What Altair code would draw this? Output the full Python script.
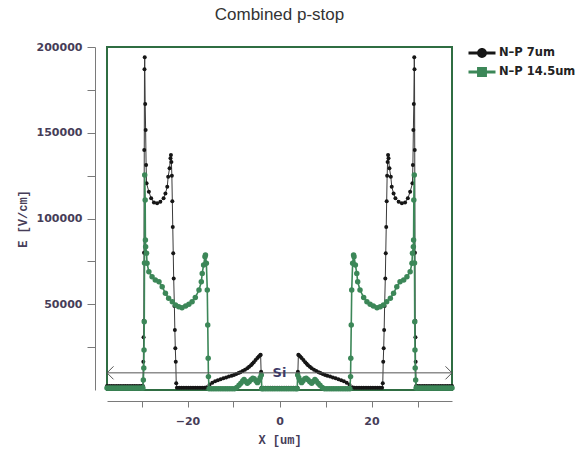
import altair as alt
import pandas as pd

# ---------------- data ----------------
series_names = ["N–P 7um", "N–P 14.5um"]

# N-P 7um (black)
black_x = [
    -37.5, -37.0, -36.5, -36.0, -35.5, -35.0, -34.5, -34.0, -33.5, -33.0, -32.5, -32.0, -31.5, -31.0, -30.5, -30.0, -29.7,
    -29.6, -29.55, -29.5, -29.45, -29.4, -29.35, -29.3,
    -29.2, -29.1, -29.0, -28.9, -28.4, -27.9, -27.3, -26.6, -25.9, -25.2, -24.8, -24.4, -24.2, -23.9, -23.7, -23.6, -23.5, -23.4,
    -23.3, -23.2, -23.1, -23.0, -22.85, -22.75, -22.65, -22.55, -22.45, -22.3,
    -21.8, -21.3, -20.8, -20.3, -19.8, -19.3, -18.8, -18.3, -17.8, -17.3, -16.8, -16.3, -15.8,
    -15.2, -14.6, -14.0, -13.4, -12.8, -12.2, -11.6, -11.0, -10.4, -9.9, -9.4, -8.9, -8.5, -8.0, -7.5, -7.0,
    -6.6, -6.2, -5.9, -5.6, -5.2, -4.8, -4.5, -4.2, -4.1, -4.0, -3.9,
    -3.5, -3.0, -2.5, -2.0, -1.5, -1.0, -0.5, 0.0, 0.5, 1.0, 1.5, 2.0, 2.5, 3.0, 3.5,
    3.9, 4.0, 4.1, 4.2, 4.5, 4.8, 5.2, 5.6, 5.9, 6.2, 6.6,
    7.0, 7.5, 8.0, 8.5, 8.9, 9.4, 9.9, 10.4, 11.0, 11.6, 12.2, 12.8, 13.4, 14.0, 14.6, 15.2,
    15.8, 16.3, 16.8, 17.3, 17.8, 18.3, 18.8, 19.3, 19.8, 20.3, 20.8, 21.3, 21.8,
    22.3, 22.45, 22.55, 22.65, 22.75, 22.85, 23.0, 23.1, 23.2, 23.3,
    23.4, 23.5, 23.6, 23.7, 23.9, 24.2, 24.4, 24.8, 25.2, 25.9, 26.6, 27.3, 27.9, 28.4, 28.9, 29.0, 29.1, 29.2,
    29.3, 29.35, 29.4, 29.45, 29.5, 29.55, 29.6,
    29.7, 30.0, 30.5, 31.0, 31.5, 32.0, 32.5, 33.0, 33.5, 34.0, 34.5, 35.0, 35.5, 36.0, 36.5, 37.0, 37.5,
]
black_y = [
    2400, 2400, 2400, 2400, 2400, 2400, 2400, 2400, 2400, 2400, 2400, 2400, 2400, 2400, 2400, 2400, 2400,
    16500, 30700, 40400, 80000, 140000, 187000, 194000,
    166800, 151600, 131200, 120500, 115600, 111800, 109400, 108900, 109800, 111800, 114600, 118500, 124400, 129300, 135100, 137000, 133000, 125000,
    110000, 95000, 79700, 65000, 49000, 35000, 24300, 16500, 4000, 1300,
    1300, 1300, 1300, 1300, 1300, 1300, 1300, 1300, 1300, 1300, 1300, 1300, 1600,
    3200, 4300, 5100, 5700, 6300, 6900, 7300, 7800, 8300, 8800, 9400, 9900, 10400, 11100, 11800, 12700,
    13600, 14500, 15300, 16200, 17500, 18600, 19500, 20200, 20500, 10700, 1300,
    1300, 1300, 1300, 1300, 1300, 1300, 1300, 1300, 1300, 1300, 1300, 1300, 1300, 1300, 1300,
    1300, 10700, 20500, 20200, 19500, 18600, 17500, 16200, 15300, 14500, 13600,
    12700, 11800, 11100, 10400, 9900, 9400, 8800, 8300, 7800, 7300, 6900, 6300, 5700, 5100, 4300, 3200,
    1600, 1300, 1300, 1300, 1300, 1300, 1300, 1300, 1300, 1300, 1300, 1300, 1300,
    1300, 4000, 16500, 24300, 35000, 49000, 65000, 79700, 95000, 110000,
    125000, 133000, 137000, 135100, 129300, 124400, 118500, 114600, 111800, 109800, 108900, 109400, 111800, 115600, 120500, 131200, 151600, 166800,
    194000, 187000, 140000, 80000, 40400, 30700, 16500,
    2400, 2400, 2400, 2400, 2400, 2400, 2400, 2400, 2400, 2400, 2400, 2400, 2400, 2400, 2400, 2400, 2400,
]

# N-P 14.5um (green)
green_x = [
    -37.5, -37.0, -36.5, -36.0, -35.5, -35.0, -34.5, -34.0, -33.5, -33.0, -32.5, -32.0, -31.5, -31.0, -30.5, -30.0, -29.7,
    -29.6, -29.5, -29.45, -29.4, -29.35, -29.3,
    -29.2, -29.15, -29.1, -28.9, -28.8, -28.4, -27.7, -27.0, -26.2, -25.5, -24.8, -24.1, -23.3, -22.6, -21.9, -21.2,
    -20.4, -19.7, -19.0, -18.3, -17.5, -17.0, -16.8, -16.5, -16.2, -16.1,
    -15.9, -15.7, -15.6, -15.5, -15.45, -15.3,
    -14.8, -14.3, -13.8, -13.3, -12.8, -12.3, -11.8, -11.3, -10.8, -10.3, -9.8,
    -9.3, -8.8, -8.4, -8.0, -7.7, -7.3, -7.0, -6.6, -6.2, -5.8, -5.5, -5.1, -4.8, -4.5, -4.2, -3.95, -3.85,
    -3.5, -3.0, -2.5, -2.0, -1.5, -1.0, -0.5, 0.0, 0.5, 1.0, 1.5, 2.0, 2.5, 3.0, 3.5,
    3.85, 3.95, 4.2, 4.5, 4.8, 5.1, 5.5, 5.8, 6.2, 6.6, 7.0, 7.3, 7.7, 8.0, 8.4, 8.8, 9.3,
    9.8, 10.3, 10.8, 11.3, 11.8, 12.3, 12.8, 13.3, 13.8, 14.3, 14.8,
    15.3, 15.45, 15.5, 15.6, 15.7, 15.9,
    16.1, 16.2, 16.5, 16.8, 17.0, 17.5, 18.3, 19.0, 19.7, 20.4,
    21.2, 21.9, 22.6, 23.3, 24.1, 24.8, 25.5, 26.2, 27.0, 27.7, 28.4, 28.8, 28.9, 29.1, 29.15, 29.2,
    29.3, 29.35, 29.4, 29.45, 29.5, 29.6,
    29.7, 30.0, 30.5, 31.0, 31.5, 32.0, 32.5, 33.0, 33.5, 34.0, 34.5, 35.0, 35.5, 36.0, 36.5, 37.0, 37.5,
]
green_y = [
    1200, 1200, 1200, 1200, 1200, 1200, 1200, 1200, 1200, 1200, 1200, 1200, 1200, 1200, 1200, 1200, 1200,
    5800, 12800, 23300, 39800, 74000, 125400,
    110800, 87500, 83600, 79700, 73900, 69000, 66000, 64100, 63100, 60200, 56400, 53500, 51500, 49600, 48600, 48000,
    49000, 50000, 51500, 54000, 58300, 63100, 68000, 72900, 77700, 78700,
    73900, 58300, 37900, 18500, 7800, 700,
    700, 700, 700, 700, 700, 700, 700, 700, 700, 700, 700,
    1500, 2800, 3900, 5300, 6200, 5000, 3900, 4800, 6000, 6800, 6500, 5200, 4300, 5600, 7200, 8700, 700,
    700, 700, 700, 700, 700, 700, 700, 700, 700, 700, 700, 700, 700, 700, 700,
    700, 8700, 7200, 5600, 4300, 5200, 6500, 6800, 6000, 4800, 3900, 5000, 6200, 5300, 3900, 2800, 1500,
    700, 700, 700, 700, 700, 700, 700, 700, 700, 700, 700,
    700, 7800, 18500, 37900, 58300, 73900,
    78700, 77700, 72900, 68000, 63100, 58300, 54000, 51500, 50000, 49000,
    48000, 48600, 49600, 51500, 53500, 56400, 60200, 63100, 64100, 66000, 69000, 73900, 79700, 83600, 87500, 110800,
    125400, 74000, 39800, 23300, 12800, 5800,
    1200, 1200, 1200, 1200, 1200, 1200, 1200, 1200, 1200, 1200, 1200, 1200, 1200, 1200, 1200, 1200, 1200,
]

# "Si" region annotation
si_extent_x = [-37.5, 37.5]
si_level = [10000, 10000]
si_label = ["Si"]
si_label_x = [0]

x_ticks = [-30, -20, -10, 0, 10, 20, 30]
y_ticks = [25000, 50000, 75000, 100000, 125000, 150000, 175000, 200000]

# ---------------- styling ----------------
BLACK = "#161616"
BLACK_LINE = "#3a3a3a"
GREEN = "#3c8758"
FRAME = "#2f6d42"
AXIS_GRAY = "#7a7a7a"
LABEL_COL = "#463d58"

black_df = pd.DataFrame({"x": black_x, "y": black_y})
green_df = pd.DataFrame({"x": green_x, "y": green_y})
si_df = pd.DataFrame({"x": si_extent_x, "y": si_level, "side": ["left", "right"]})
si_txt = pd.DataFrame({"x": si_label_x, "y": si_level[:1], "t": si_label})
legend_df = pd.DataFrame({"series": series_names})

xscale = alt.Scale(domain=[-37.5, 37.5], nice=False, zero=False)
yscale = alt.Scale(domain=[0, 200000], nice=False)

x_axis = alt.Axis(
    values=x_ticks, title="X [um]", grid=False, offset=11, tickSize=6,
    labelPadding=8, titlePadding=8,
    labelExpr="datum.value % 20 === 0 ? datum.label : ''",
    domainColor=AXIS_GRAY, tickColor=AXIS_GRAY,
    labelFont="DejaVu Sans", labelFontWeight="bold", labelFontSize=11, labelColor=LABEL_COL,
    titleFont="Liberation Mono", titleFontWeight="bold", titleFontSize=12, titleColor=LABEL_COL,
)
y_axis = alt.Axis(
    values=y_ticks, title="E [V/cm]", grid=False, offset=12, tickSize=8,
    labelPadding=5, titlePadding=7, format="d",
    labelExpr="datum.value % 50000 === 0 ? datum.label : ''",
    domainColor=AXIS_GRAY, tickColor=AXIS_GRAY,
    labelFont="DejaVu Sans", labelFontWeight="bold", labelFontSize=11, labelColor=LABEL_COL,
    titleFont="Liberation Mono", titleFontWeight="bold", titleFontSize=12, titleColor=LABEL_COL,
)

X = alt.X("x:Q", scale=xscale, axis=x_axis)
Y = alt.Y("y:Q", scale=yscale, axis=y_axis)

black_line = alt.Chart(black_df).mark_line(color=BLACK_LINE, strokeWidth=1).encode(x=X, y=Y, order="x:Q")
black_pts = alt.Chart(black_df).mark_circle(color=BLACK, size=16, opacity=1).encode(x=X, y=Y)
green_line = alt.Chart(green_df).mark_line(color=GREEN, strokeWidth=1.6).encode(x=X, y=Y, order="x:Q")
green_pts = alt.Chart(green_df).mark_circle(color=GREEN, size=30, opacity=1).encode(x=X, y=Y)

si_rule = alt.Chart(si_df).mark_line(color="#555555", strokeWidth=1).encode(x=X, y=Y)
si_arrows = alt.Chart(si_df).mark_point(filled=False, strokeWidth=1, color="#555555", size=169, opacity=1).encode(
    x=X, y=Y,
    shape=alt.Shape("side:N", scale=alt.Scale(domain=["left", "right"],
                                              range=["M1,-1L0,0L1,1", "M-1,-1L0,0L-1,1"]), legend=None),
)
si_text = alt.Chart(si_txt).mark_text(
    font="DejaVu Sans", fontWeight="bold", fontSize=13, color="#3e3a66", baseline="middle", align="center"
).encode(x=X, y=Y, text="t:N")

# legend symbols: a bar (the line) plus a marker, both drawn by fill
CIRCLE_SYM = "M-1.5,-0.16H1.5V0.16H-1.5Z M-0.55,0A0.55,0.55,0,1,1,0.55,0A0.55,0.55,0,1,1,-0.55,0Z"
SQUARE_SYM = "M-1.5,-0.16H1.5V0.16H-1.5Z M-0.55,-0.55H0.55V0.55H-0.55Z"


def legend_for(sym, ly):
    return alt.Legend(title=None, orient="none", legendX=366, legendY=ly, padding=0,
                      symbolType=sym, symbolSize=324, symbolStrokeWidth=0, labelOffset=8,
                      labelFont="DejaVu Sans", labelFontWeight="bold", labelFontSize=11.5,
                      labelColor="#222222")


legend_a = alt.Chart(legend_df).transform_filter("false").mark_point(filled=True, opacity=1).encode(
    x=X, y=Y,
    color=alt.Color("series:N", scale=alt.Scale(domain=series_names[:1], range=[BLACK]),
                    legend=legend_for(CIRCLE_SYM, -3)),
)
legend_b = alt.Chart(legend_df).transform_filter("false").mark_point(filled=True, opacity=1).encode(
    x=X, y=Y,
    fill=alt.Fill("series:N", scale=alt.Scale(domain=series_names[1:], range=[GREEN]),
                  legend=legend_for(SQUARE_SYM, 16)),
)

chart = alt.layer(
    black_line, black_pts, green_line, green_pts, si_rule, si_arrows, si_text, legend_a, legend_b
).properties(
    width=345, height=343,
    title=alt.TitleParams("Combined p-stop", font="Liberation Sans", fontSize=17, fontWeight="normal",
                          color="#333333", anchor="middle", offset=17),
    autosize=alt.AutoSizeParams(type="none"),
    padding={"left": 107, "top": 47, "right": 135, "bottom": 62},
).configure(background="white").configure_view(stroke=FRAME, strokeWidth=2)

chart.save("out.html", embed_options={"renderer": "svg", "actions": False})
